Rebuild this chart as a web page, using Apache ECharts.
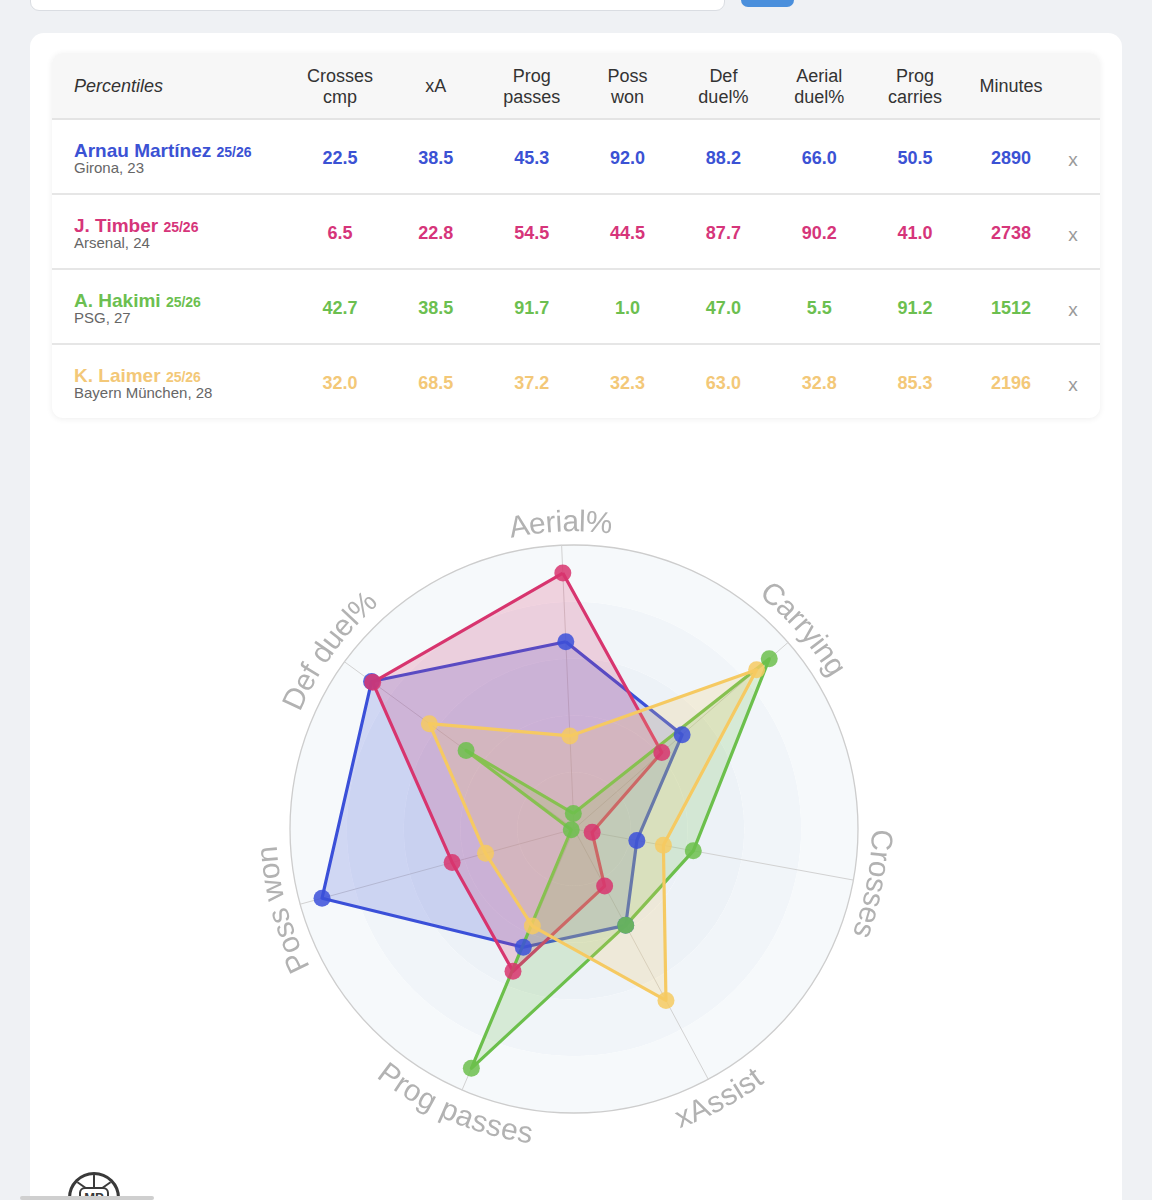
<!DOCTYPE html>
<html>
<head>
<meta charset="utf-8">
<script src="https://cdn.jsdelivr.net/npm/echarts@6/dist/echarts.min.js"></script>
<style>
html,body{margin:0;padding:0;}
body{width:1152px;height:1200px;background:#eff1f4;position:relative;overflow:hidden;font-family:"Liberation Sans",Arial,Helvetica,sans-serif;}
.search{position:absolute;left:30px;top:-32px;width:693px;height:41px;background:#fff;border:1px solid #dadde2;border-radius:9px;}
.btn{position:absolute;left:741px;top:-32px;width:53px;height:39px;background:#4a8fdc;border-radius:7px;}
.card{position:absolute;left:30px;top:33px;width:1092px;height:1220px;background:#fff;border-radius:14px;}
.panel{position:absolute;left:22px;top:20px;width:1048px;height:365px;background:#fff;border-radius:11px;box-shadow:0 1px 6px rgba(0,0,0,0.07);overflow:hidden;}
.head{position:absolute;left:0;top:0;width:100%;height:67px;background:#f7f7f7;border-bottom:2px solid #e4e4e4;box-sizing:border-box;}
.hcell{position:absolute;top:0;height:67px;width:110px;display:flex;align-items:center;justify-content:center;text-align:center;font-size:18px;line-height:21px;color:#333;}
.pct{position:absolute;left:22px;top:0;height:67px;line-height:67px;font-size:18px;font-style:italic;color:#333;}
.row{position:absolute;left:0;width:100%;box-sizing:border-box;}
.name{position:absolute;left:22px;font-size:19px;font-weight:bold;line-height:20px;white-space:nowrap;}
.name span{font-size:14px;}
.sub{position:absolute;left:22px;font-size:15px;line-height:18px;color:#666;white-space:nowrap;}
.val{position:absolute;top:0;width:100px;text-align:center;font-size:18px;font-weight:bold;}
.xx{position:absolute;top:0;width:30px;text-align:center;font-size:19px;color:#9a9a9a;}
#chart{position:absolute;left:0;top:397px;width:1092px;height:800px;}
.logo{position:absolute;left:68px;top:1172px;width:46px;height:46px;border:3px solid #3a3a3a;border-radius:50%;overflow:hidden;}
.logo .t{position:absolute;left:8px;top:12px;width:26px;height:18px;border:2px solid #3a3a3a;border-radius:6px;font-size:13px;font-weight:bold;line-height:18px;text-align:center;color:#3a3a3a;background:#fff;}
.logo .v{position:absolute;left:22px;top:0;width:2px;height:12px;background:#3a3a3a;}
.logo .a{position:absolute;left:2px;top:8px;width:14px;height:2px;background:#3a3a3a;transform:rotate(35deg);}
.logo .b{position:absolute;left:30px;top:8px;width:14px;height:2px;background:#3a3a3a;transform:rotate(-35deg);}
.bar{position:absolute;left:20px;top:1196px;width:134px;height:4px;background:#cfcfcf;border-radius:2px;}
</style>
</head>
<body>
<div class="search"></div>
<div class="btn"></div>
<div class="card">
  <div class="panel" id="panel"></div>
  <div id="chart"></div>
</div>
<div class="logo"><div class="v"></div><div class="a"></div><div class="b"></div><div class="t">MP</div></div>
<div class="bar"></div>
<script>
// ---------- data ----------
const headerLines = [['Crosses','cmp'],['xA'],['Prog','passes'],['Poss','won'],['Def','duel%'],['Aerial','duel%'],['Prog','carries'],['Minutes']];
const players = ['Arnau Martínez','J. Timber','A. Hakimi','K. Laimer'];
const seasons = ['25/26','25/26','25/26','25/26'];
const clubs = ['Girona, 23','Arsenal, 24','PSG, 27','Bayern München, 28'];
const colors = ['#3b50d9','#d8356f','#6cc04c','#f6ca62'];
const textColors = ['#3b52d4','#d6357a','#6cbf50','#f3c878'];
// Crosses cmp, xA, Prog passes, Poss won, Def duel%, Aerial duel%, Prog carries
const martinez = [22.5, 38.5, 45.3, 92.0, 88.2, 66.0, 50.5];
const timber   = [6.5, 22.8, 54.5, 44.5, 87.7, 90.2, 41.0];
const hakimi   = [42.7, 38.5, 91.7, 1.0, 47.0, 5.5, 91.2];
const laimer   = [32.0, 68.5, 37.2, 32.3, 63.0, 32.8, 85.3];
const minutes  = [2890, 2738, 1512, 2196];
const radarAxes = ['Aerial%','Def duel%','Poss won','Prog passes','xAssist','Crosses','Carrying'];
const radarCols = [5, 4, 3, 2, 1, 0, 6];

const allVals = [martinez, timber, hakimi, laimer];

// ---------- table ----------
const panel = document.getElementById('panel');
const colCenter = i => 288 + i * 95.85;
let h = '<div class="head"><div class="pct">Percentiles</div>';
headerLines.forEach((ls, i) => {
  h += '<div class="hcell" style="left:' + (colCenter(i) - 55) + 'px">' + ls.join('<br>') + '</div>';
});
h += '</div>';
const rowTops = [67, 142, 217, 292];
players.forEach((p, r) => {
  const top = rowTops[r];
  const height = r < 3 ? 75 : 73;
  const border = r < 3 ? 'border-bottom:2px solid #e6e6e6;' : '';
  h += '<div class="row" style="top:' + top + 'px;height:' + height + 'px;' + border + '">';
  h += '<div class="name" style="top:21px;color:' + textColors[r] + '">' + p + ' <span>' + seasons[r] + '</span></div>';
  h += '<div class="sub" style="top:39px">' + clubs[r] + '</div>';
  const vals = allVals[r].map(v => v.toFixed(1)).concat([String(minutes[r])]);
  vals.forEach((v, i) => {
    h += '<div class="val" style="left:' + (colCenter(i) - 50) + 'px;line-height:76px;color:' + textColors[r] + '">' + v + '</div>';
  });
  h += '<div class="xx" style="left:' + (1021 - 15) + 'px;line-height:80px">x</div>';
  h += '</div>';
});
panel.innerHTML = h;

// ---------- radar ----------
const chart = echarts.init(document.getElementById('chart'));
const CX = 544, CY = 399, R = 284, START = 92.5;
const labelFont = '30px "Liberation Sans", Arial, sans-serif';

function curvedLabel(text, angleDeg, r, flip) {
  const ctx = document.createElement('canvas').getContext('2d');
  ctx.font = labelFont;
  const chars = Array.from(text);
  const widths = chars.map(c => ctx.measureText(c).width);
  const total = widths.reduce((a, b) => a + b, 0);
  const span = total / r;
  const th = angleDeg * Math.PI / 180;
  const els = [];
  let acc = 0;
  chars.forEach((c, i) => {
    const mid = acc + widths[i] / 2;
    acc += widths[i];
    const phi = flip ? th - span / 2 + mid / r : th + span / 2 - mid / r;
    els.push({
      type: 'text',
      x: CX + r * Math.cos(phi),
      y: CY - r * Math.sin(phi),
      rotation: flip ? phi + Math.PI / 2 : phi - Math.PI / 2,
      silent: true,
      style: {text: c, font: labelFont, fill: '#b2b2b2', align: 'center', verticalAlign: 'middle'}
    });
  });
  return els;
}

let labelEls = [];
radarAxes.forEach((name, i) => {
  const ang = START + i * 360 / radarAxes.length;
  const s = Math.sin(ang * Math.PI / 180);
  const flip = s < -0.5;
  labelEls = labelEls.concat(curvedLabel(name, ang, flip ? 309 : 306, flip));
});

const series = players.map((p, k) => ({
  type: 'radar',
  name: p,
  symbol: 'circle',
  symbolSize: 17,
  lineStyle: {width: 3.2, color: colors[k]},
  itemStyle: {color: colors[k], opacity: 0.85},
  areaStyle: {color: colors[k], opacity: 0.2},
  data: [{name: p, value: radarCols.map(c => allVals[k][c])}]
}));

chart.setOption({
  animation: false,
  radar: {
    center: [CX, CY],
    radius: R,
    startAngle: START,
    shape: 'circle',
    splitNumber: 5,
    indicator: radarAxes.map(n => ({name: n, min: 0, max: 100})),
    axisName: {show: false},
    axisLine: {lineStyle: {color: '#d2d2d2', width: 1}},
    axisTick: {show: false},
    axisLabel: {show: false},
    splitLine: {lineStyle: {color: ['rgba(0,0,0,0)','rgba(0,0,0,0)','rgba(0,0,0,0)','rgba(0,0,0,0)','rgba(0,0,0,0)','#cdcdcd'], width: 1.3}},
    splitArea: {show: true, areaStyle: {color: ['#ecf1f6','#ecf1f7','#edf2f7','#f1f5f9','#f6f9fb']}}
  },
  graphic: {elements: labelEls},
  series: series
});
</script>
</body>
</html>
